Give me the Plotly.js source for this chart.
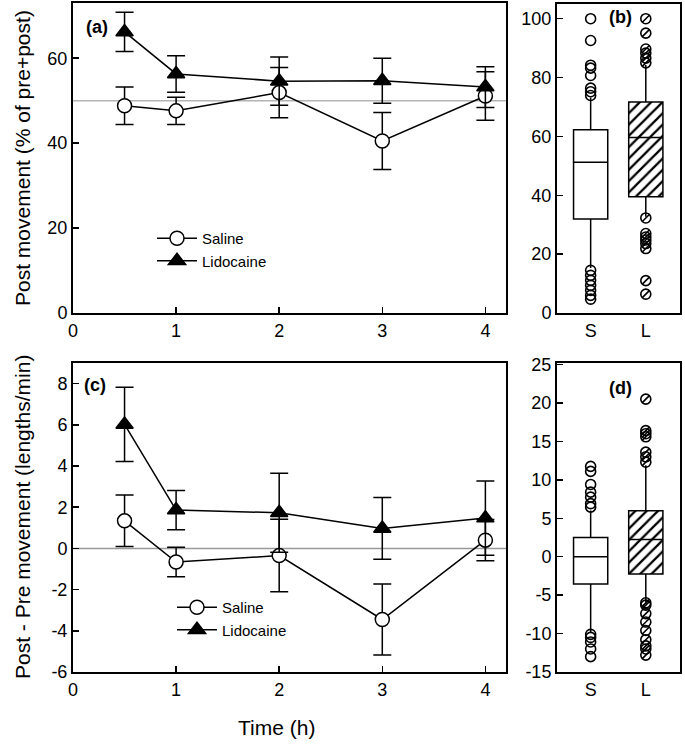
<!DOCTYPE html>
<html>
<head>
<meta charset="utf-8">
<script src="https://cdn.plot.ly/plotly-3.0.1.min.js"></script>
<style>html,body{margin:0;padding:0;background:#fff;}#chart{width:685px;height:750px;}</style>
</head>
<body>
<div id="chart"></div>
<script>
// ---------- data ----------
const time = [0.5, 1, 2, 3, 4];
const timeTicks = [0, 1, 2, 3, 4];

// (a) Post movement (% of pre+post)
const salinePct = [48.8, 47.6, 51.9, 40.5, 51.1];
const salinePctErr = [4.4, 3.2, 5.9, 6.7, 5.7];
const lidoPct = [66.2, 56.3, 54.6, 54.7, 53.2];
const lidoPctErr = [4.6, 4.3, 5.7, 5.3, 4.8];
const aTicks = [0, 20, 40, 60];

// (c) Post - Pre movement (lengths/min)
const salineDiff = [1.34, -0.66, -0.35, -3.45, 0.40];
const salineDiffErr = [1.25, 0.72, 1.76, 1.72, 1.0];
const lidoDiff = [6.02, 1.86, 1.73, 0.97, 1.47];
const lidoDiffErr = [1.8, 0.95, 1.92, 1.5, 1.8];
const cTicks = [-6, -4, -2, 0, 2, 4, 6, 8];

// (b) box summaries (S = saline, L = lidocaine)
const boxCats = ['S', 'L'];
const bQ1 = [31.9, 39.5];
const bMedian = [51.2, 59.6];
const bQ3 = [62.3, 71.7];
const bLow = [15.3, 32.7];
const bHigh = [73.2, 84.3];
const bOutS = [100, 92.6, 84.2, 83.2, 80.7, 76.4, 75.2, 73.9, 14.5, 12.8, 11.1, 9.4, 7.7, 6.0, 4.7];
const bOutL = [100, 95.1, 89.7, 88.3, 86.6, 85.0, 32.3, 27.0, 25.8, 24.8, 23.6, 21.9, 11.0, 6.4];
const bTicks = [0, 20, 40, 60, 80, 100];

// (d) box summaries
const dQ1 = [-3.56, -2.25];
const dMedian = [0, 2.25];
const dQ3 = [2.51, 5.98];
const dLow = [-9.8, -5.9];
const dHigh = [6.0, 11.9];
const dOutS = [11.75, 11.1, 9.4, 8.4, 7.75, 6.9, 6.45, -10.1, -10.5, -11.1, -12.0, -13.0];
const dOutL = [20.5, 16.4, 16.0, 15.6, 13.6, 13.0, 12.3, -6.0, -6.3, -7.4, -8.5, -9.6, -10.8, -11.6, -12.0, -12.8];
const dTicks = [-15, -10, -5, 0, 5, 10, 15, 20, 25];

// ---------- styling ----------
const FONT = 'Liberation Sans, Arial, sans-serif';
const TICKF = 18;
const W = 685, H = 750;
const px = v => v / W;
const py = v => 1 - v / H;

function lineTrace(y, err, name, sym, fill, xa, ya, legend) {
  return {
    type: 'scatter', mode: 'lines+markers', x: time, y: y, name: name,
    xaxis: xa, yaxis: ya, legend: legend, showlegend: true,
    line: {color: '#000', width: 1.5},
    marker: {symbol: sym, size: sym === 'circle' ? 14 : 15, color: fill, line: {color: '#000', width: 1.5}},
    error_y: {type: 'data', array: err, visible: true, color: '#000', thickness: 1.5, width: 9}
  };
}

function boxTrace(i, q1, med, q3, lo, hi, fill, xa, ya) {
  return {
    type: 'box', x: [boxCats[i]], q1: [q1[i]], median: [med[i]], q3: [q3[i]],
    lowerfence: [lo[i]], upperfence: [hi[i]], boxpoints: false,
    xaxis: xa, yaxis: ya, showlegend: false, width: 0.62, whiskerwidth: 0,
    fillcolor: fill, line: {color: '#000', width: 1.5}, hoverinfo: 'skip'
  };
}

function hatchBar(q1, q3, xa, ya) {
  return {
    type: 'bar', x: [boxCats[1]], base: [q1[1]], y: [q3[1] - q1[1]], width: 0.62,
    xaxis: xa, yaxis: ya, showlegend: false,
    marker: {color: '#fff', line: {width: 0},
      pattern: {shape: '/', fgcolor: '#000', bgcolor: '#fff', size: 8, solidity: 0.28}}
  };
}

function outTrace(cat, vals, sym, size, xa, ya) {
  return {
    type: 'scatter', mode: 'markers', x: vals.map(() => cat), y: vals,
    xaxis: xa, yaxis: ya, showlegend: false,
    marker: {symbol: sym, size: size, color: '#000', line: {color: '#000', width: 1.6}}
  };
}

const traces = [
  lineTrace(salinePct, salinePctErr, 'Saline', 'circle', '#fff', 'x', 'y', 'legend'),
  lineTrace(lidoPct, lidoPctErr, 'Lidocaine', 'triangle-up', '#000', 'x', 'y', 'legend'),
  lineTrace(salineDiff, salineDiffErr, 'Saline', 'circle', '#fff', 'x3', 'y3', 'legend2'),
  lineTrace(lidoDiff, lidoDiffErr, 'Lidocaine', 'triangle-up', '#000', 'x3', 'y3', 'legend2'),

  hatchBar(bQ1, bQ3, 'x2', 'y2'),
  boxTrace(0, bQ1, bMedian, bQ3, bLow, bHigh, '#fff', 'x2', 'y2'),
  boxTrace(1, bQ1, bMedian, bQ3, bLow, bHigh, 'rgba(0,0,0,0)', 'x2', 'y2'),
  outTrace('S', bOutS, 'circle-open', 10, 'x2', 'y2'),
  outTrace('L', bOutL, 'circle-open', 10, 'x2', 'y2'),
  outTrace('L', bOutL, 'line-ne-open', 7, 'x2', 'y2'),

  hatchBar(dQ1, dQ3, 'x4', 'y4'),
  boxTrace(0, dQ1, dMedian, dQ3, dLow, dHigh, '#fff', 'x4', 'y4'),
  boxTrace(1, dQ1, dMedian, dQ3, dLow, dHigh, 'rgba(0,0,0,0)', 'x4', 'y4'),
  outTrace('S', dOutS, 'circle-open', 10, 'x4', 'y4'),
  outTrace('L', dOutL, 'circle-open', 10, 'x4', 'y4'),
  outTrace('L', dOutL, 'line-ne-open', 7, 'x4', 'y4')
];

const axBase = {
  showline: true, mirror: true, linecolor: '#000', linewidth: 2,
  ticks: 'inside', ticklen: 6, tickwidth: 1.5, tickcolor: '#000',
  showgrid: false, zeroline: false,
  tickfont: {family: FONT, size: TICKF, color: '#000'}
};
const tk = vals => ({tickvals: vals, ticktext: vals.map(v => String(v))});

const ann = (text, x, y, size, extra) => Object.assign({
  text: text, xref: 'paper', yref: 'paper', x: px(x), y: py(y),
  xanchor: 'center', yanchor: 'middle', showarrow: false,
  font: {family: FONT, size: size, color: '#000'}
}, extra || {});

const layout = {
  width: W, height: H,
  margin: {l: 0, r: 0, t: 0, b: 0},
  paper_bgcolor: '#fff', plot_bgcolor: '#fff',
  font: {family: FONT, color: '#000'},
  barmode: 'overlay',
  xaxis: Object.assign({}, axBase, tk(timeTicks), {domain: [px(73), px(506)], range: [0, 4.2], anchor: 'y'}),
  yaxis: Object.assign({}, axBase, tk(aTicks), {domain: [py(313), py(3)], range: [0, 73], anchor: 'x'}),
  xaxis2: Object.assign({}, axBase, {domain: [px(557), px(680)], type: 'category', range: [-0.61, 1.62], ticks: '', anchor: 'y2', categoryorder: 'array', categoryarray: boxCats}),
  yaxis2: Object.assign({}, axBase, tk(bTicks), {domain: [py(313), py(4)], range: [0, 105], anchor: 'x2'}),
  xaxis3: Object.assign({}, axBase, tk(timeTicks), {domain: [px(73), px(506)], range: [0, 4.2], anchor: 'y3'}),
  yaxis3: Object.assign({}, axBase, tk(cTicks), {domain: [py(672), py(363)], range: [-6, 9], anchor: 'x3'}),
  xaxis4: Object.assign({}, axBase, {domain: [px(557), px(680)], type: 'category', range: [-0.61, 1.62], ticks: '', anchor: 'y4', categoryorder: 'array', categoryarray: boxCats}),
  yaxis4: Object.assign({}, axBase, tk(dTicks), {domain: [py(672), py(363)], range: [-15, 25.2], anchor: 'x4'}),
  shapes: [
    {type: 'line', xref: 'x domain', yref: 'y', x0: 0, x1: 1, y0: 50, y1: 50, line: {color: '#b4b4b4', width: 1.5}, layer: 'below'},
    {type: 'line', xref: 'x3 domain', yref: 'y3', x0: 0, x1: 1, y0: 0, y1: 0, line: {color: '#999', width: 1.5}, layer: 'below'}
  ],
  legend: {x: px(152), y: py(222), xanchor: 'left', yanchor: 'top', bgcolor: 'rgba(0,0,0,0)',
    font: {family: FONT, size: 15, color: '#000'}, tracegroupgap: 0, itemwidth: 40},
  legend2: {x: px(172), y: py(591), xanchor: 'left', yanchor: 'top', bgcolor: 'rgba(0,0,0,0)',
    font: {family: FONT, size: 15, color: '#000'}, tracegroupgap: 0, itemwidth: 40},
  annotations: [
    ann('Post movement (% of pre+post)', 22, 158, 21, {textangle: -90}),
    ann('Post - Pre movement (lengths/min)', 22, 517, 21, {textangle: -90}),
    ann('Time (h)', 276, 727, 21),
    ann('<b>(a)</b>', 97, 27, 18),
    ann('<b>(b)</b>', 620, 17, 18),
    ann('<b>(c)</b>', 95, 385, 18),
    ann('<b>(d)</b>', 620, 388, 18)
  ]
};

Plotly.newPlot('chart', traces, layout, {displayModeBar: false, staticPlot: true});
</script>
</body>
</html>
